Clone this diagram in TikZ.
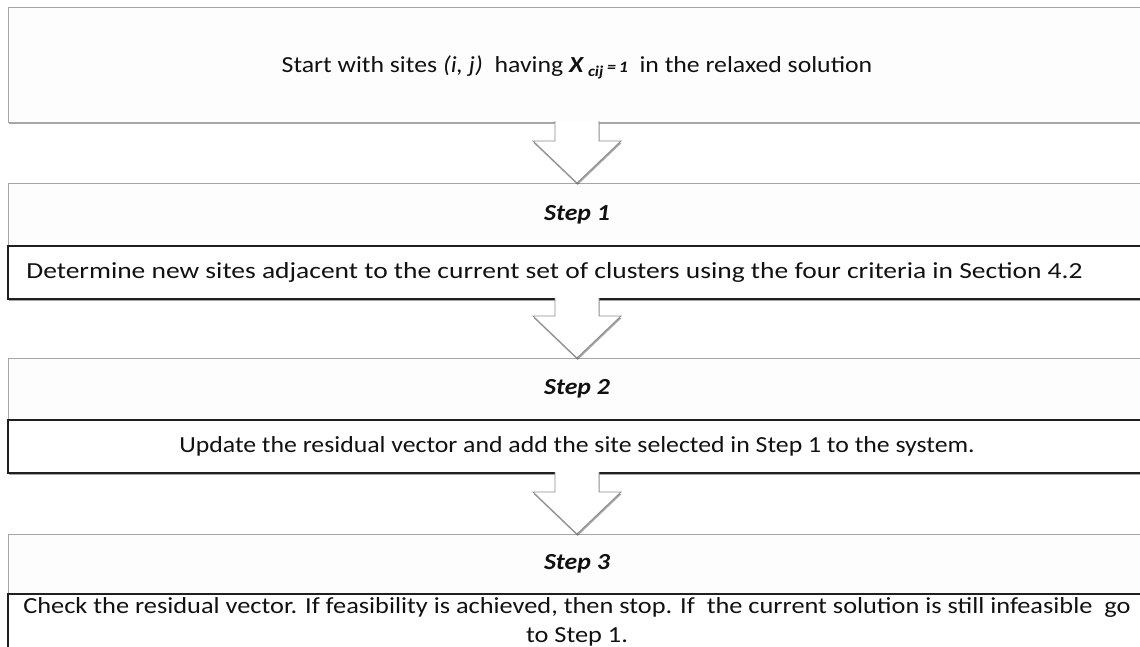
\documentclass[tikz,border=0pt]{standalone}
\usepackage{fontspec}
\setmainfont[FakeStretch=1.12]{Carlito}
\newfontfamily\widefont[FakeStretch=1.195]{Carlito}
\newfontfamily\midfont[FakeStretch=1.145]{Carlito}
\usetikzlibrary{shadows,calc}
\definecolor{hdrline}{HTML}{A6A6A6}
\definecolor{hdrfill}{HTML}{FDFDFD}
\definecolor{arrline}{HTML}{8C8C8C}
\definecolor{txt}{HTML}{111111}
\begin{document}
\begin{tikzpicture}[x=1pt,y=-1pt,
  font=\fontsize{23}{29}\selectfont, text=txt,
  boxbase/.style={rectangle, anchor=north west, minimum width=1138pt, inner sep=0pt, outer sep=0pt},
  softshadow/.style={drop shadow={shadow xshift=0.6pt, shadow yshift=-2pt, opacity=0.35, fill=black}},
  hdrbox/.style={boxbase, draw=hdrline, fill=hdrfill, line width=1pt, softshadow},
  descbox/.style={boxbase, draw=black!88, fill=white, line width=1.3pt, softshadow},
  flowarrow/.style={fill=white, draw=arrline, line width=0.9pt, line join=miter, softshadow}]
\useasboundingbox (0,0) rectangle (1140,646);
\clip (0,0) rectangle (1140,646);
\fill[white] (0,0) rectangle (1140,646);

\node[hdrbox, minimum height=115pt, text depth=0pt] (start) at (8,7)
  {Start with sites \textit{(i, j)}\ \ having \textbf{\textit{X}}\,{\fontsize{15}{15}\selectfont\raisebox{-4pt}{\textbf{\textit{cij}}}}\,{\fontsize{16}{16}\selectfont\textbf{\textit{=\,1}}}\ \ in the relaxed solution};

\node[hdrbox, minimum height=63pt] (h1) at (8,183) {\textbf{\textit{Step 1}}};
\node[descbox, minimum height=53pt] (d1) at (8,246)
  {\widefont Determine new sites adjacent to the current set of clusters using the four criteria in Section 4.2\hspace*{45pt}};

\node[hdrbox, minimum height=62pt] (h2) at (8,358) {\textbf{\textit{Step 2}}};
\node[descbox, minimum height=53pt] (d2) at (8,420)
  {Update the residual vector and add the site selected in Step 1 to the system.};

\node[hdrbox, minimum height=60pt] (h3) at (8,534) {\textbf{\textit{Step 3}}};
\node[descbox, minimum height=55pt, align=center, font=\fontsize{23}{29}\midfont] (d3) at (8,594)
  {Check the residual vector. If feasibility is achieved, then stop. If\ \ the current solution is still infeasible\ \ go\\ to Step 1.};

\path[flowarrow] ($(start.south)+(-22,-1)$) -- ($(h1.north)+(-22,-42)$) -- ($(h1.north)+(-44,-42)$)
  -- (h1.north) -- ($(h1.north)+(44,-42)$) -- ($(h1.north)+(22,-42)$) -- ($(start.south)+(22,-1)$);
\path[flowarrow] ($(d1.south)+(-22,-1)$) -- ($(h2.north)+(-22,-42)$) -- ($(h2.north)+(-44,-42)$)
  -- (h2.north) -- ($(h2.north)+(44,-42)$) -- ($(h2.north)+(22,-42)$) -- ($(d1.south)+(22,-1)$);
\path[flowarrow] ($(d2.south)+(-22,-1)$) -- ($(h3.north)+(-22,-42)$) -- ($(h3.north)+(-44,-42)$)
  -- (h3.north) -- ($(h3.north)+(44,-42)$) -- ($(h3.north)+(22,-42)$) -- ($(d2.south)+(22,-1)$);
\end{tikzpicture}
\end{document}
